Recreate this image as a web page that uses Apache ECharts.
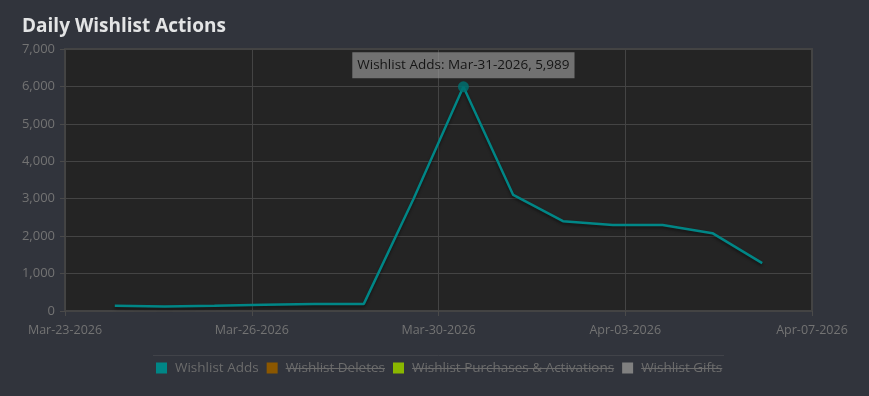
<!DOCTYPE html>
<html>
<head>
<meta charset="utf-8">
<script src="https://cdn.jsdelivr.net/npm/echarts@6/dist/echarts.min.js"></script>
<style>
  html, body { margin: 0; padding: 0; background: #31343c; }
  #chart { width: 869px; height: 396px; }
</style>
</head>
<body>
<div id="chart"></div>
<script>
// data
var startDate = Date.UTC(2026, 2, 23);
var endDate = Date.UTC(2026, 3, 7);
var dates = ['2026-03-24', '2026-03-25', '2026-03-26', '2026-03-27', '2026-03-28', '2026-03-29', '2026-03-30',
             '2026-03-31', '2026-04-01', '2026-04-02', '2026-04-03', '2026-04-04', '2026-04-05', '2026-04-06'];
var wishlistAdds = [140, 120, 140, 170, 190, 190, 3000, 5989, 3100, 2400, 2300, 2300, 2080, 1280];
var wishlistDeletes = [];
var wishlistPurchases = [];
var wishlistGifts = [];
var seriesNames = ['Wishlist Adds', 'Wishlist Deletes', 'Wishlist Purchases & Activations', 'Wishlist Gifts'];
var hiddenNames = ['Wishlist Deletes', 'Wishlist Purchases & Activations', 'Wishlist Gifts'];
var yMax = 7000;
var yStep = 1000;
var xStepDays = 3.75;

var DAY = 86400000;
var monthNames = ['Jan', 'Feb', 'Mar', 'Apr', 'May', 'Jun', 'Jul', 'Aug', 'Sep', 'Oct', 'Nov', 'Dec'];
function fmtDate(ms) {
    var d = new Date(ms);
    var dd = d.getUTCDate();
    return monthNames[d.getUTCMonth()] + '-' + (dd < 10 ? '0' + dd : dd) + '-' + d.getUTCFullYear();
}
function dayOffset(s) {
    var p = s.split('-');
    return (Date.UTC(+p[0], +p[1] - 1, +p[2]) - startDate) / DAY;
}
function fmtNum(v) {
    return String(v).replace(/\B(?=(\d{3})+(?!\d))/g, ',');
}

var peak = wishlistAdds.indexOf(Math.max.apply(null, wishlistAdds));
var addsData = dates.map(function (d, i) {
    var item = { value: [dayOffset(d), wishlistAdds[i]], symbol: 'none' };
    if (i === peak) {
        item.symbol = 'circle';
        item.symbolSize = 11;
        item.itemStyle = { color: 'rgba(0,110,110,0.85)', borderWidth: 0 };
        item.label = {
            show: true,
            position: 'top',
            distance: 3,
            formatter: 'Wishlist Adds: ' + fmtDate(startDate + dayOffset(d) * DAY) + ', ' + fmtNum(wishlistAdds[i]),
            color: '#151515',
            fontFamily: 'Open Sans',
            fontSize: 13.5,
            lineHeight: 16,
            backgroundColor: 'rgba(150,150,150,0.68)',
            padding: [5, 5, 5, 5]
        };
    }
    return item;
});

var font = '"Open Sans"';
var legendLeft = 156;
var legendIconW = 11;
var legendTextPad = 3;
var legendGap = 8;
var legendFontSize = 13.5;
var legendMidY = 368;

// strike-through lines for the switched-off series in the legend
var measure = document.createElement('canvas').getContext('2d');
measure.font = legendFontSize + 'px ' + font;
var strikes = [];
var lx = legendLeft;
seriesNames.forEach(function (n) {
    var tx = lx + legendIconW + 5 + legendTextPad;
    var w = measure.measureText(n).width;
    if (hiddenNames.indexOf(n) >= 0) {
        strikes.push({
            type: 'line',
            shape: { x1: tx, y1: legendMidY + 0.5, x2: tx + w, y2: legendMidY + 0.5 },
            style: { stroke: '#6c6c6c', lineWidth: 1 },
            z: 100
        });
    }
    lx = tx + w + legendGap;
});

var chart = echarts.init(document.getElementById('chart'));
chart.setOption({
    backgroundColor: '#31343c',
    animation: false,
    title: {
        text: 'Daily Wishlist Actions',
        left: 17,
        top: 12,
        textStyle: { color: '#e3e4e5', fontFamily: font, fontSize: 19, fontWeight: 'bold' }
    },
    grid: {
        left: 65, right: 57, top: 49, bottom: 85,
        show: true,
        backgroundColor: '#242424',
        borderColor: '#434343',
        borderWidth: 2
    },
    legend: {
        data: seriesNames,
        left: legendLeft,
        top: legendMidY - 8,
        padding: 0,
        icon: 'rect',
        itemWidth: legendIconW,
        itemHeight: 11,
        itemGap: legendGap,
        selectedMode: false,
        textStyle: {
            color: '#6c6c6c', fontFamily: font, fontSize: legendFontSize, lineHeight: 16,
            padding: [0, 0, 0, legendTextPad]
        }
    },
    xAxis: {
        type: 'value',
        min: 0,
        max: (endDate - startDate) / DAY,
        interval: xStepDays,
        axisLine: { show: false },
        axisTick: { show: true, length: 5, lineStyle: { color: '#4a4a4a' } },
        splitLine: { show: true, lineStyle: { color: '#444444' } },
        axisLabel: {
            color: '#737373', fontFamily: font, fontSize: 12.5, margin: 13,
            formatter: function (v) { return fmtDate(startDate + Math.floor(v + 1e-9) * DAY); }
        }
    },
    yAxis: {
        type: 'value',
        min: 0,
        max: yMax,
        interval: yStep,
        axisLine: { show: false },
        axisTick: { show: true, length: 5, lineStyle: { color: '#4a4a4a' } },
        splitLine: { show: true, lineStyle: { color: '#444444' } },
        axisLabel: {
            color: '#737373', fontFamily: font, fontSize: 13, margin: 10,
            formatter: function (v) { return fmtNum(v); }
        }
    },
    series: [
        {
            name: 'Wishlist Adds',
            type: 'line',
            data: addsData,
            color: '#008686',
            showSymbol: true,
            lineStyle: {
                color: '#008686', width: 2.5,
                shadowColor: 'rgba(0,0,0,0.45)', shadowBlur: 3, shadowOffsetY: 2
            },
            emphasis: { disabled: true },
            z: 5
        },
        { name: 'Wishlist Deletes', type: 'line', data: wishlistDeletes, color: '#8b5700' },
        { name: 'Wishlist Purchases & Activations', type: 'line', data: wishlistPurchases, color: '#8ab700' },
        { name: 'Wishlist Gifts', type: 'line', data: wishlistGifts, color: '#808080' }
    ],
    graphic: [
        {
            type: 'line',
            shape: { x1: 153, y1: 355.5, x2: 724, y2: 355.5 },
            style: { stroke: '#414349', lineWidth: 1 }
        }
    ].concat(strikes)
});
</script>
</body>
</html>
